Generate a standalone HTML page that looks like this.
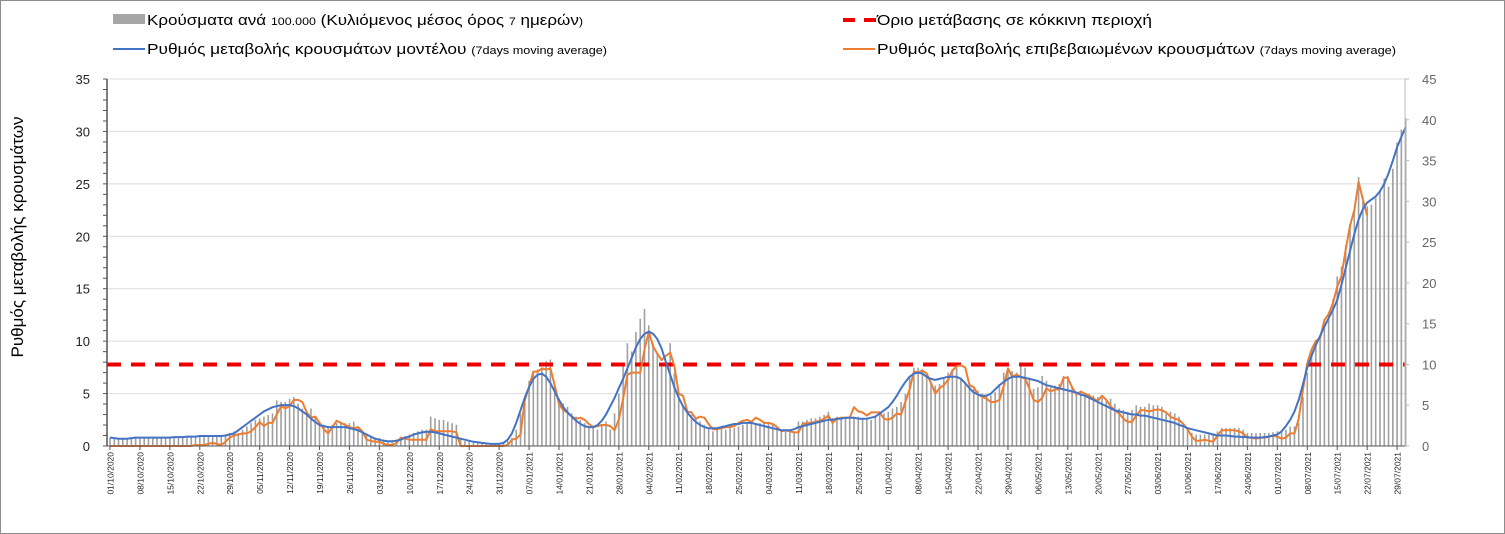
<!DOCTYPE html>
<html><head><meta charset="utf-8"><style>
html,body{margin:0;padding:0;background:#fff}
svg{display:block}
text{font-family:"Liberation Sans",sans-serif}
</style></head><body>
<svg id="chart" width="1505" height="534" viewBox="0 0 1505 534" xmlns="http://www.w3.org/2000/svg">
<rect x="0.5" y="0.5" width="1504" height="533" fill="#fff" stroke="#8c8c8c"/>
<g>
 <g>
  <rect x="113" y="14" width="32" height="10" fill="#a6a6a6"/>
  <text x="147" y="25" font-size="15" textLength="436" lengthAdjust="spacingAndGlyphs">Κρούσματα ανά <tspan font-size="11">100.000</tspan> (Κυλιόμενος μέσος όρος <tspan font-size="11">7</tspan> ημερών<tspan font-size="11">)</tspan></text>
 </g>
 <g>
  <line x1="113" y1="49" x2="145" y2="49" stroke="#4472c4" stroke-width="2"/>
  <text x="147" y="54" font-size="15" textLength="460" lengthAdjust="spacingAndGlyphs">Ρυθμός μεταβολής κρουσμάτων μοντέλου <tspan font-size="11">(7days moving average)</tspan></text>
 </g>
 <g>
  <line x1="843" y1="20" x2="876" y2="20" stroke="#e00" stroke-width="4" stroke-dasharray="12,9"/>
  <text x="877" y="25" font-size="15" textLength="275" lengthAdjust="spacingAndGlyphs">Όριο μετάβασης σε κόκκινη περιοχή</text>
 </g>
 <g>
  <line x1="843" y1="49" x2="875" y2="49" stroke="#ed7d31" stroke-width="2"/>
  <text x="877" y="54" font-size="15" textLength="519" lengthAdjust="spacingAndGlyphs">Ρυθμός μεταβολής επιβεβαιωμένων κρουσμάτων <tspan font-size="11">(7days moving average)</tspan></text>
 </g>
</g>
<text transform="translate(23,237) rotate(-90)" text-anchor="middle" font-size="17">Ρυθμός μεταβολής κρουσμάτων</text>
<g id="grid"></g><g id="bars"></g><g id="lines"></g><g id="axes"></g>
</svg>
<script>
const startDate = [2020, 9, 1];
const leftTicks = [0,5,10,15,20,25,30,35];
const rightTicks = [0,5,10,15,20,25,30,35,40,45];
const threshold = 10;
const cases = [
1.0,1.0,0.9,0.9,0.9,0.9,1.0, 1.0,1.0,1.0,1.0,1.0,1.0,1.0, 1.0,1.0,1.1,1.1,1.1,1.1,1.2, 1.2,1.2,1.2,1.2,1.2,1.3,1.3,
1.6,1.8,1.6,2.0,2.4,2.8,3.2, 3.4,3.6,3.8,4.0,5.6,5.4,5.4, 5.8,6.0,5.2,4.6,4.0,4.6,3.6, 3.0,2.6,2.4,2.6,2.8,2.8,2.8,
2.8,3.0,2.4,1.8,1.4,1.2,1.0, 1.0,0.8,0.6,0.6,0.8,1.0,1.2, 1.4,1.6,1.8,2.0,2.0,3.6,3.4, 3.2,3.2,3.0,2.8,2.6,1.0,0.6,
0.5,0.4,0.4,0.4,0.3,0.3,0.3, 0.3,0.4,0.6,1.0,2.0,4.0,6.0, 8.0,9.0,9.4,9.6,10.4,10.6,7.6, 5.8,5.2,4.8,4.0,3.6,3.2,2.8,
2.4,2.2,2.0,2.6,3.0,2.0,4.0, 6.4,10.0,12.6,11.6,14.0,15.6,16.8, 14.8,12.6,11.4,10.0,10.0,12.6,9.0, 6.6,5.0,4.2,3.8,3.4,3.0,2.6,
2.2,1.8,2.0,2.2,2.0,2.2,2.2, 2.4,2.6,2.8,2.8,2.8,2.8,3.0, 2.8,2.6,2.2,1.8,1.8,1.8,1.8, 3.0,3.0,3.2,3.4,3.4,3.6,3.8,
4.2,3.4,3.6,3.6,3.4,3.4,3.6, 3.6,3.4,3.4,3.2,3.6,4.0,4.0, 4.2,4.6,4.8,5.4,6.4,8.6,9.6, 9.6,9.4,9.0,7.8,7.4,7.6,8.4,
9.0,9.4,9.6,8.4,7.8,7.4,7.0, 6.8,6.4,6.2,6.2,6.6,7.6,9.0, 9.6,9.2,9.0,10.0,9.6,8.4,7.0, 7.2,8.6,8.0,7.4,7.4,7.6,8.6,
8.6,7.2,6.4,6.6,6.4,6.4,6.2, 6.0,6.0,5.6,5.8,5.2,4.6,4.4, 4.2,4.4,5.0,4.8,4.8,5.2,5.0, 5.0,4.8,4.0,4.2,4.0,3.6,2.6,
2.0,1.6,1.4,1.4,1.4,1.4,1.4, 1.8,2.2,2.2,2.2,2.2,2.2,2.0, 1.6,1.6,1.6,1.6,1.6,1.6,1.7, 1.8,1.8,2.0,2.4,2.4,2.8,6.0,
9.0,11.8,13.0,13.4,15.6,16.4,18.0, 20.8,22.0,24.6,27.2,29.0,33.0,30.6, 29.4,29.6,30.4,31.4,32.8,31.8,34.0, 37.2,38.8,40.2];
const modelRate = [
0.8,0.75,0.7,0.7,0.7,0.75,0.8,0.8,0.8,0.8,0.8,0.8,0.8,0.8,0.8,0.85,0.85,0.85,0.9,0.9,0.9,0.95,0.95,0.95,0.95,0.95,0.95,1.0,1.1,1.2,1.5,
1.8,2.1,2.4,2.7,3.0,3.3,3.5,3.7,3.8,3.9,3.9,3.9,3.8,3.6,3.3,3.0,2.6,2.3,2.0,1.9,1.8,1.8,1.8,1.8,1.8,1.7,1.6,1.5,1.3,1.1,
0.9,0.7,0.6,0.5,0.45,0.45,0.5,0.6,0.8,0.9,1.1,1.2,1.3,1.35,1.35,1.3,1.2,1.1,1.0,0.9,0.8,0.7,0.6,0.5,0.4,0.35,0.3,0.25,0.2,0.2,0.2,
0.3,0.6,1.2,2.2,3.4,4.6,5.6,6.4,6.8,6.9,6.6,6.0,5.2,4.4,3.7,3.2,2.8,2.4,2.1,1.9,1.8,1.8,2.0,2.4,3.0,3.8,4.6,5.5,6.4,7.4,8.4,
9.4,10.2,10.7,10.9,10.7,10.2,9.3,8.0,6.8,5.6,4.6,3.8,3.2,2.7,2.3,2.0,1.8,1.7,1.7,1.7,1.8,1.9,2.0,2.1,2.1,2.2,2.2,2.2,
2.1,2.0,1.9,1.8,1.7,1.6,1.5,1.5,1.5,1.6,1.8,1.9,2.0,2.1,2.2,2.3,2.4,2.5,2.5,2.6,2.6,2.7,2.7,2.7,2.6,2.6,2.6,2.7,2.8,3.1,3.4,
3.7,4.2,4.8,5.5,6.1,6.6,6.9,7.0,6.9,6.6,6.4,6.3,6.4,6.5,6.6,6.6,6.6,6.4,6.0,5.5,5.1,4.9,4.8,4.8,5.0,5.4,5.8,6.1,6.4,6.6,
6.6,6.6,6.5,6.4,6.3,6.2,6.0,5.8,5.7,5.6,5.5,5.4,5.3,5.2,5.1,4.9,4.8,4.6,4.4,4.2,4.0,3.8,3.6,3.4,3.3,3.2,3.1,3.0,3.0,2.9,2.9,
2.8,2.7,2.6,2.5,2.4,2.3,2.2,2.0,1.9,1.7,1.6,1.5,1.4,1.3,1.2,1.1,1.0,1.0,1.0,0.95,0.9,0.9,0.85,0.85,0.8,0.8,0.8,0.85,0.9,1.0,
1.1,1.4,1.9,2.5,3.3,4.4,5.9,7.5,8.6,9.6,10.5,11.4,12.2,13.0,13.9,15.4,17.0,18.6,20.2,21.6,22.6,23.2,23.5,23.8,24.3,25.0,26.0,27.2,28.5,29.5,30.4];
const confirmedRate = [
0,0,0,0,0,0,0,0,0,0,0,0,0,0,0,0,0,0,0,0,0.1,0.1,0.1,0.2,0.3,0.2,0.1,0.4,0.8,1.0,1.1,
1.2,1.2,1.4,1.8,2.3,1.9,2.2,2.2,3.0,3.8,3.6,3.8,4.4,4.4,4.2,3.2,2.7,2.8,2.2,1.6,1.2,1.8,2.4,2.2,2.0,1.8,1.7,1.8,1.4,0.6,
0.5,0.4,0.4,0.2,0.1,0.1,0.3,0.8,0.7,0.6,0.6,0.6,0.6,0.6,1.6,1.4,1.4,1.4,1.4,1.4,1.3,0,0,0,0,0,0,0,0,0,0,
0,0.1,0.6,0.7,1.1,4.4,5.6,7.1,7.1,7.4,7.3,7.4,5.8,4.0,3.4,3.2,2.8,2.6,2.7,2.5,2.1,1.8,1.9,2.0,2.0,1.9,1.5,2.5,4.5,6.8,7.0,
7.0,7.0,9.2,10.9,9.5,8.8,8.2,8.6,8.9,7.6,5.0,4.8,3.3,3.2,2.6,2.8,2.7,2.1,1.6,1.6,1.7,1.8,1.8,1.9,2.2,2.4,2.5,2.3,
2.7,2.5,2.2,2.2,2.1,1.8,1.4,1.5,1.4,1.3,1.3,2.1,2.2,2.2,2.3,2.4,2.6,2.9,2.2,2.6,2.7,2.7,2.7,3.7,3.3,3.2,2.9,3.2,3.2,3.2,2.6,
2.5,2.7,3.1,3.0,4.2,5.4,7.1,7.0,7.2,6.9,6.0,5.0,5.5,5.8,6.3,7.2,7.6,7.7,7.5,5.8,5.6,4.9,4.7,4.5,4.2,4.2,4.4,5.7,7.4,6.6,
6.8,6.6,6.4,5.5,4.4,4.2,4.6,5.5,5.2,5.4,5.4,6.5,6.5,5.6,4.9,5.2,5.0,4.8,4.5,4.3,4.8,4.4,3.8,3.4,3.1,2.6,2.3,2.3,2.9,3.4,3.4,
3.3,3.4,3.5,3.4,3.2,2.8,2.6,2.5,2.1,1.6,0.9,0.5,0.5,0.6,0.5,0.4,1.0,1.5,1.5,1.5,1.5,1.4,1.2,0.8,0.8,0.7,0.8,0.8,0.9,1.0,
0.9,0.7,0.8,1.2,1.2,2.6,5.4,7.9,9.2,10.0,10.3,12.0,12.6,13.6,15.2,16.2,18.8,21.0,22.5,25.2,23.5,22.0];

const NS = "http://www.w3.org/2000/svg";
const X0 = 110, DX = 4.276, Y0 = 446, YL = 79;
const xOf = i => X0 + i * DX;
const yLeft = v => Y0 - v * (Y0 - YL) / 35;
const yRight = v => Y0 - v * (Y0 - YL) / 45;
function mk(tag, attrs, parent){const e=document.createElementNS(NS,tag);for(const k in attrs)e.setAttribute(k,attrs[k]);parent.appendChild(e);return e;}
const grid=document.getElementById('grid'), bars=document.getElementById('bars'), lines=document.getElementById('lines'), axes=document.getElementById('axes');
const xEnd = 1405;

leftTicks.forEach(t=>{
  if(t>0){const g=mk('line',{x1:107,x2:xEnd,y1:yLeft(t),y2:yLeft(t),stroke:'#dcdcdc','stroke-width':1},grid);
  
  }
  const tx=mk('text',{x:90,y:yLeft(t)+5,'text-anchor':'end','font-size':13,fill:'#222'},axes);
  tx.textContent=t;
  
  
});
for(let v=0;v<=35;v++){mk('line',{x1:103,x2:107,y1:yLeft(v),y2:yLeft(v),stroke:'#555','stroke-width':1},axes);}
rightTicks.forEach(t=>{
  const tx=mk('text',{x:1422,y:yRight(t)+5,'font-size':13,fill:'#666'},axes);
  tx.textContent=t;
  
  
  mk('line',{x1:xEnd,x2:xEnd+4,y1:yRight(t),y2:yRight(t),stroke:'#bbb'},axes);
});
const la=mk('line',{x1:107,x2:107,y1:YL,y2:Y0,stroke:'#555','stroke-width':1.5},axes);


const ra=mk('line',{x1:xEnd,x2:xEnd,y1:YL,y2:Y0,stroke:'#bbb','stroke-width':1},axes);


const xa=mk('line',{x1:107,x2:xEnd,y1:Y0,y2:Y0,stroke:'#555','stroke-width':1},axes);



cases.forEach((v,i)=>{
  const b=mk('rect',{x:xOf(i)-0.8,y:yRight(v),width:1.6,height:Y0-yRight(v),fill:'#a0a0a0'},bars);
  
  
});
const d0=new Date(startDate[0],startDate[1],startDate[2]);
for(let i=0;i<cases.length;i+=7){
  const d=new Date(d0.getTime()+i*86400000+3600000*12);
  const s=String(d.getDate()).padStart(2,'0')+'/'+String(d.getMonth()+1).padStart(2,'0')+'/'+d.getFullYear();
  mk('line',{x1:xOf(i),x2:xOf(i),y1:Y0,y2:Y0+4,stroke:'#555'},axes);
  const tx=mk('text',{transform:`translate(${xOf(i)+3.5},452) rotate(-90)`,'text-anchor':'end','font-size':8.5,fill:'#222'},axes);
  tx.textContent=s;
  
  
}
const th=mk('line',{x1:107,x2:xEnd,y1:yRight(threshold),y2:yRight(threshold),stroke:'#e00','stroke-width':4,'stroke-dasharray':'14,10'},lines);


function path(arr){return arr.map((v,i)=>(i?'L':'M')+xOf(i).toFixed(1)+','+yLeft(v).toFixed(1)).join('');}
const po=mk('path',{d:path(confirmedRate),fill:'none',stroke:'#ed7d31','stroke-width':2,'stroke-linejoin':'round'},lines);


const pb=mk('path',{d:path(modelRate),fill:'none',stroke:'#4472c4','stroke-width':2,'stroke-linejoin':'round'},lines);


</script>
</body></html>
